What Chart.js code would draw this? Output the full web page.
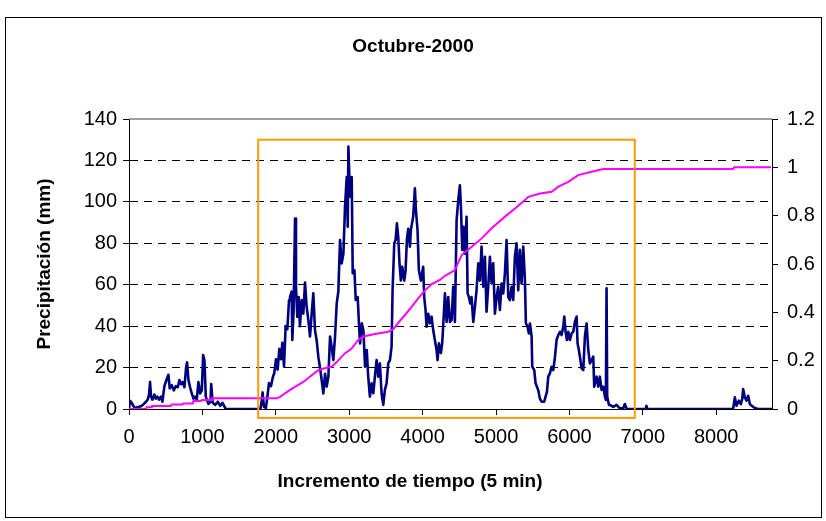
<!DOCTYPE html>
<html lang="es">
<head>
<meta charset="UTF-8">
<title>Octubre-2000</title>
<script src="https://cdn.jsdelivr.net/npm/chart.js"></script>
<style>
  html, body { margin: 0; padding: 0; background: #fff; }
  #marco { position: relative; width: 826px; height: 521px; }
</style>
</head>
<body>
<div id="marco"><canvas id="lluvia"></canvas></div>
<script>
// Precipitación (mm) por incremento de 5 min
var pasos = [
  0, 14, 37, 59, 82, 127, 173, 218, 255, 273, 287, 300, 318, 346, 364, 387, 409, 437, 455, 482,
  510, 537, 555, 582, 610, 637, 664, 687, 710, 732, 755, 778, 791, 810, 832, 855, 878, 901, 923, 946,
  969, 992, 1010, 1028, 1046, 1060, 1082, 1110, 1120, 1140, 1174, 1210, 1242, 1274, 1310, 1330, 1790, 1805, 1820, 1838,
  1865, 1889, 1907, 1934, 1957, 1980, 2003, 2025, 2048, 2071, 2089, 2112, 2134, 2157, 2180, 2193, 2216, 2225, 2243, 2262,
  2275, 2293, 2311, 2329, 2352, 2375, 2398, 2420, 2443, 2466, 2489, 2511, 2534, 2557, 2580, 2602, 2625, 2648, 2671, 2693,
  2716, 2739, 2761, 2784, 2807, 2830, 2852, 2875, 2898, 2921, 2943, 2966, 2980, 2989, 3002, 3016, 3034, 3048, 3071, 3089,
  3116, 3134, 3148, 3171, 3193, 3216, 3239, 3259, 3282, 3305, 3328, 3350, 3373, 3396, 3418, 3441, 3464, 3486, 3509, 3532,
  3555, 3577, 3591, 3614, 3632, 3650, 3668, 3686, 3704, 3722, 3750, 3768, 3786, 3804, 3827, 3840, 3872, 3895, 3909, 3931,
  3949, 3977, 4008, 4022, 4040, 4054, 4077, 4099, 4122, 4145, 4167, 4190, 4204, 4222, 4249, 4267, 4285, 4304, 4327, 4349,
  4372, 4395, 4417, 4440, 4463, 4486, 4508, 4522, 4540, 4558, 4576, 4599, 4613, 4631, 4649, 4667, 4690, 4713, 4735, 4758,
  4781, 4803, 4826, 4849, 4871, 4894, 4917, 4940, 4962, 4985, 5008, 5030, 5053, 5076, 5099, 5121, 5144, 5167, 5189, 5212,
  5235, 5257, 5280, 5303, 5325, 5348, 5371, 5394, 5407, 5430, 5448, 5462, 5485, 5494, 5521, 5539, 5576, 5598, 5621, 5657,
  5675, 5694, 5712, 5734, 5757, 5780, 5803, 5825, 5848, 5871, 5893, 5916, 5930, 5948, 5966, 5984, 6007, 6030, 6052, 6075,
  6098, 6111, 6129, 6143, 6166, 6189, 6211, 6234, 6257, 6279, 6302, 6325, 6338, 6370, 6393, 6415, 6438, 6461, 6484, 6497,
  6506, 6515, 6538, 6551, 6597, 6642, 6687, 6733, 6755, 6778, 6790, 7040, 7050, 7060, 8230, 8254, 8276, 8308, 8335, 8354,
  8367, 8390, 8413, 8435, 8458, 8481, 8526, 8571, 8760
];
var precipitacion = [
  0, 4, 3, 1.5, 0.5, 1, 1.5, 3, 4.5, 7, 13, 6, 4.5, 7, 5, 6, 4.5, 6, 3.5, 11,
  14, 16.5, 10, 11.5, 9, 11, 10.5, 14, 12, 13, 10.5, 20, 22.5, 14, 10.5, 7.5, 5, 6, 4.5, 13,
  7.5, 9, 26, 23.5, 6, 4.5, 2.5, 3.5, 12, 3, 2, 3.5, 1.5, 3, 0.5, 0, 0, 3, 8, 1,
  0.5, 7, 12.5, 11, 15, 17.5, 24, 19, 29, 24, 32, 20.5, 40, 38.5, 52.5, 54, 56.7, 33.3, 48, 92,
  59, 44.5, 54, 40, 52.6, 46, 61, 49.5, 43, 35, 46, 55.8, 38, 33, 25, 20, 14, 7.5, 17, 10.8,
  15.6, 35, 30, 23.6, 35, 51, 56.7, 81.6, 70.3, 75, 97.7, 112, 88, 126.7, 112, 102.5, 112, 65.5, 67, 52.6,
  54, 40, 31.7, 41.4, 38, 20.4, 28.5, 15.6, 6, 12.4, 7.6, 15.6, 23.6, 15.6, 22, 7.6, 2, 9.2, 12.4, 22,
  23.6, 30, 57.4, 80, 81.6, 89.6, 83, 70, 62, 68.7, 62, 67, 81.6, 87, 78.4, 86.4, 93, 106.5, 96, 86.4,
  67, 62, 68.7, 54, 47.8, 39.7, 46, 41.4, 44.6, 38, 33.3, 28.5, 23.6, 31.7, 27, 31.7, 43, 55.8, 42, 54,
  42, 43, 59, 42, 91, 101, 108, 97.7, 76.8, 88, 75, 92.8, 55.8, 54, 51, 54, 42, 49.4, 57.4, 70.3,
  62, 78.4, 59, 73.5, 47, 59, 73.5, 60.6, 70.3, 46, 54, 59, 47.8, 60.6, 55.8, 65.5, 81.6, 54, 52.6, 59,
  52.6, 73.5, 80, 57.4, 76.8, 60.6, 78.4, 62, 41.4, 39.7, 36.5, 41.3, 35, 20.4, 18.8, 12.4, 9, 5, 3.5, 3.5,
  6, 8.3, 15.6, 17.2, 20.4, 18.8, 25, 33.3, 35.7, 37.3, 35.7, 39.7, 44.6, 37.3, 33.3, 37.3, 33.3, 36.5, 37.3, 42,
  44.6, 31.7, 28.5, 25.3, 19.6, 18.8, 35, 41.3, 28.5, 22, 23.6, 25.3, 10.8, 15.6, 10.8, 15.6, 9.2, 10.8, 6, 4.4,
  58.3, 6, 2, 2, 1, 2, 0.3, 0.3, 2.4, 0.3, 0, 0, 1.5, 0, 0, 5.6, 1.6, 4, 2.4, 4.8,
  9.6, 5.6, 4, 6.4, 2.4, 1.6, 0.5, 0, 0
];

// Fracción acumulada de la precipitación del mes
var pasosAcum = [
  0, 230, 241, 300, 310, 570, 582, 730, 741, 870, 878, 980, 992, 1120, 1128, 2013, 2060, 2100, 2150, 2200,
  2262, 2380, 2489, 2580, 2680, 2761, 2850, 2940, 3033, 3120, 3192, 3350, 3532, 3600, 3680, 3760, 3850, 3940, 4030, 4120,
  4236, 4300, 4440, 4532, 4670, 4804, 4940, 5122, 5260, 5394, 5440, 5599, 5758, 5850, 5985, 6120, 6302, 6461, 8231, 8245,
  8745
];
var fraccionAcum = [
  0, 0, 0.007, 0.007, 0.012, 0.012, 0.019, 0.019, 0.023, 0.023, 0.033, 0.033, 0.037, 0.037, 0.044, 0.044, 0.05, 0.06, 0.07, 0.08,
  0.092, 0.113, 0.14, 0.161, 0.17, 0.175, 0.2, 0.23, 0.25, 0.285, 0.3, 0.31, 0.32, 0.33, 0.361, 0.389, 0.423, 0.458, 0.49, 0.516,
  0.534, 0.55, 0.575, 0.637, 0.671, 0.706, 0.748, 0.796, 0.83, 0.865, 0.878, 0.892, 0.899, 0.92, 0.94, 0.968, 0.982, 0.993, 0.993, 1.0,
  1.0
];

var ticksX = [0, 1000, 2000, 3000, 4000, 5000, 6000, 7000, 8000];
var ticksIzq = [0, 20, 40, 60, 80, 100, 120, 140];
var ticksDer = [0, 0.2, 0.4, 0.6, 0.8, 1.0, 1.2];

// Ventana del evento principal (pasos, mm)
var ventanaPasos = [1760, 6890];
var ventanaMm = [-4.3, 130];

function puntos(xs, ys) {
  return xs.map(function (v, i) { return { x: v, y: ys[i] }; });
}

Chart.defaults.font.family = "'Liberation Sans', Arial, sans-serif";
Chart.defaults.font.size = 20;
Chart.defaults.color = '#000';

var textos = {
  id: 'textos',
  afterDatasetsDraw: function (chart) {
    var ctx = chart.ctx, a = chart.chartArea;
    var sx = chart.scales.x, sy = chart.scales.y;
    ctx.save();
    // borde superior del área de trazado
    ctx.strokeStyle = '#808080';
    ctx.lineWidth = 1.5;
    ctx.beginPath();
    ctx.moveTo(a.left, a.top);
    ctx.lineTo(a.right, a.top);
    ctx.stroke();
    // recuadro naranja del evento
    var x0 = sx.getPixelForValue(ventanaPasos[0]);
    var x1 = sx.getPixelForValue(ventanaPasos[1]);
    var y0 = sy.getPixelForValue(ventanaMm[1]);
    var y1 = sy.getPixelForValue(ventanaMm[0]);
    ctx.strokeStyle = '#FF9900';
    ctx.lineWidth = 2;
    ctx.strokeRect(x0, y0, x1 - x0, y1 - y0);
    ctx.restore();
  },
  afterDraw: function (chart) {
    var ctx = chart.ctx;
    ctx.save();
    ctx.strokeStyle = '#000';
    ctx.lineWidth = 1;
    ctx.strokeRect(5.5, 17.5, 816, 500);
    ctx.fillStyle = '#000';
    ctx.textAlign = 'center';
    ctx.textBaseline = 'middle';
    ctx.font = "bold 19px 'Liberation Sans', Arial, sans-serif";
    ctx.fillText('Octubre-2000', 413, 47);
    ctx.fillText('Incremento de tiempo (5 min)', 410, 482);
    ctx.translate(45, 264);
    ctx.rotate(-Math.PI / 2);
    ctx.fillText('Precipitación (mm)', 0, 0);
    ctx.restore();
  }
};

new Chart(document.getElementById('lluvia'), {
  type: 'line',
  data: {
    datasets: [
      {
        label: 'Acumulada',
        data: puntos(pasosAcum, fraccionAcum),
        yAxisID: 'y2',
        borderColor: '#FF00FF',
        borderWidth: 2,
        pointRadius: 0,
        tension: 0
      },
      {
        label: 'Precipitación',
        data: puntos(pasos, precipitacion),
        yAxisID: 'y',
        borderColor: '#000080',
        borderWidth: 2.6,
        borderJoinStyle: 'round',
        pointRadius: 0,
        tension: 0
      }
    ]
  },
  options: {
    responsive: true,
    maintainAspectRatio: false,
    animation: false,
    layout: { padding: { top: 119, left: 0, right: 0, bottom: 0 } },
    plugins: { legend: { display: false }, tooltip: { enabled: false }, title: { display: false } },
    scales: {
      x: {
        type: 'linear',
        min: 0,
        max: 8760,
        afterBuildTicks: function (s) { s.ticks = ticksX.map(function (v) { return { value: v }; }); },
        afterFit: function (s) { s.height = 112; },
        grid: { drawOnChartArea: false, drawTicks: true, tickLength: 6, tickColor: '#000' },
        border: { color: '#000', width: 1 },
        ticks: { padding: 10, maxRotation: 0, autoSkip: false, callback: function (v) { return String(v); } }
      },
      y: {
        position: 'left',
        min: 0,
        max: 140,
        afterBuildTicks: function (s) { s.ticks = ticksIzq.map(function (v) { return { value: v }; }); },
        afterFit: function (s) { s.width = 129; },
        grid: {
          color: function (c) { return (c.tick && (c.tick.value === 0 || c.tick.value === 140)) ? 'rgba(0,0,0,0)' : '#000'; },
          lineWidth: 1,
          tickColor: '#000',
          tickLength: 6
        },
        border: { color: '#000', width: 1, dash: [8, 6] },
        ticks: { padding: 6 }
      },
      y2: {
        position: 'right',
        min: 0,
        max: 1.2,
        afterBuildTicks: function (s) { s.ticks = ticksDer.map(function (v) { return { value: v }; }); },
        afterFit: function (s) { s.width = 54; },
        grid: { drawOnChartArea: false, tickColor: '#000', tickLength: 6 },
        border: { color: '#000', width: 1 },
        ticks: { padding: 9, callback: function (v) { return String(Number(v.toFixed(1))); } }
      }
    }
  },
  plugins: [textos]
});
</script>
</body>
</html>
